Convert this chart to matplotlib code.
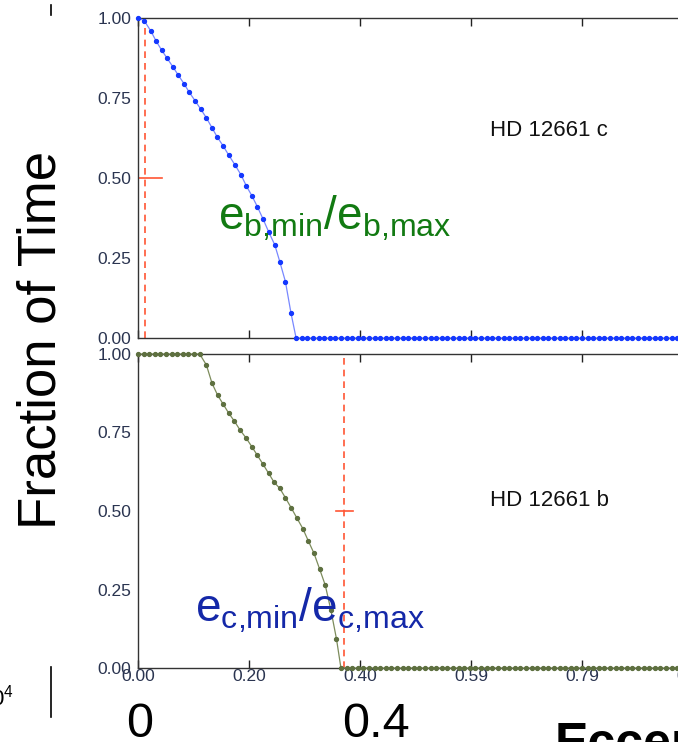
import matplotlib
matplotlib.use("Agg")
import matplotlib.pyplot as plt

plt.rcParams['font.family'] = ['Liberation Sans', 'DejaVu Sans']

# HD 12661 c panel: fraction of time vs eccentricity
top_e = [0.000, 0.011, 0.023, 0.032, 0.042, 0.052, 0.062, 0.072, 0.082, 0.091,
         0.102, 0.112, 0.122, 0.132, 0.141, 0.152, 0.162, 0.173, 0.184, 0.193,
         0.203, 0.213, 0.223, 0.233, 0.244, 0.253, 0.263, 0.273, 0.282,
         0.292, 0.302, 0.312, 0.322, 0.332, 0.342, 0.352, 0.362, 0.372, 0.382,
         0.392, 0.402, 0.412, 0.422, 0.432, 0.442, 0.452, 0.462, 0.472, 0.482,
         0.492, 0.502, 0.512, 0.522, 0.532, 0.542, 0.552, 0.562, 0.572, 0.582,
         0.592, 0.602, 0.612, 0.622, 0.632, 0.642, 0.652, 0.662, 0.672, 0.682,
         0.692, 0.702, 0.712, 0.722, 0.732, 0.742, 0.752, 0.762, 0.772, 0.782,
         0.792, 0.802, 0.812, 0.822, 0.832, 0.842, 0.852, 0.862, 0.872, 0.882,
         0.892, 0.902, 0.912, 0.922, 0.932, 0.942, 0.952, 0.962, 0.972, 0.982]
top_f = [1.000, 0.992, 0.959, 0.929, 0.900, 0.874, 0.848, 0.821, 0.795, 0.769,
         0.741, 0.715, 0.688, 0.657, 0.629, 0.600, 0.571, 0.541, 0.509, 0.476,
         0.445, 0.410, 0.372, 0.332, 0.291, 0.238, 0.176, 0.077, 0.000,
         0, 0, 0, 0, 0, 0, 0, 0, 0, 0,
         0, 0, 0, 0, 0, 0, 0, 0, 0, 0,
         0, 0, 0, 0, 0, 0, 0, 0, 0, 0,
         0, 0, 0, 0, 0, 0, 0, 0, 0, 0,
         0, 0, 0, 0, 0, 0, 0, 0, 0, 0,
         0, 0, 0, 0, 0, 0, 0, 0, 0, 0,
         0, 0, 0, 0, 0, 0, 0, 0, 0, 0]

# HD 12661 b panel
bot_e = [0.000, 0.010, 0.020, 0.030, 0.040, 0.050, 0.060, 0.070, 0.080, 0.090,
         0.100, 0.110, 0.122, 0.132, 0.142, 0.152, 0.162, 0.172, 0.182, 0.193,
         0.203, 0.213, 0.223, 0.233, 0.243, 0.253, 0.263, 0.273, 0.283, 0.294,
         0.304, 0.314, 0.324, 0.334, 0.344, 0.354, 0.362,
         0.372, 0.382, 0.392, 0.402, 0.412, 0.422, 0.432, 0.442, 0.452, 0.462,
         0.472, 0.482, 0.492, 0.502, 0.512, 0.522, 0.532, 0.542, 0.552, 0.562,
         0.572, 0.582, 0.592, 0.602, 0.612, 0.622, 0.632, 0.642, 0.652, 0.662,
         0.672, 0.682, 0.692, 0.702, 0.712, 0.722, 0.732, 0.742, 0.752, 0.762,
         0.772, 0.782, 0.792, 0.802, 0.812, 0.822, 0.832, 0.842, 0.852, 0.862,
         0.872, 0.882, 0.892, 0.902, 0.912, 0.922, 0.932, 0.942, 0.952, 0.962,
         0.972, 0.982]
bot_f = [1.000, 1.000, 1.000, 1.000, 1.000, 1.000, 1.000, 1.000, 1.000, 1.000,
         1.000, 1.000, 0.965, 0.907, 0.869, 0.840, 0.811, 0.786, 0.758, 0.732,
         0.705, 0.677, 0.649, 0.620, 0.591, 0.572, 0.542, 0.511, 0.479, 0.444,
         0.404, 0.365, 0.315, 0.264, 0.185, 0.093, 0.000,
         0, 0, 0, 0, 0, 0, 0, 0, 0, 0,
         0, 0, 0, 0, 0, 0, 0, 0, 0, 0,
         0, 0, 0, 0, 0, 0, 0, 0, 0, 0,
         0, 0, 0, 0, 0, 0, 0, 0, 0, 0,
         0, 0, 0, 0, 0, 0, 0, 0, 0, 0,
         0, 0, 0, 0, 0, 0, 0, 0, 0, 0,
         0, 0]

# red dashed marker: eccentricity value and half width of the cap
top_red_e, top_red_cap = 0.012, 0.030
bot_red_e, bot_red_cap = 0.368, 0.015

xticks = [0.0, 0.198, 0.396, 0.594, 0.792, 0.990]
xticklabels = ['0.00', '0.20', '0.40', '0.59', '0.79', '0.99']
yticks = [0.0, 0.25, 0.5, 0.75, 1.0]
yticklabels = ['0.00', '0.25', '0.50', '0.75', '1.00']

W, H = 678, 742
fig = plt.figure(figsize=(W / 100, H / 100), dpi=100)

def px_axes(left, top, right, bottom):
    return fig.add_axes([left / W, 1 - bottom / H, (right - left) / W, (bottom - top) / H])

ax1 = px_axes(138, 18, 693, 338)
ax2 = px_axes(138, 354, 693, 668)

label_col = '#2a3450'
red = '#ff5533'

panels = [
    (ax1, top_e, top_f, '#7888ff', '#1438ff', top_red_e, top_red_cap, 'HD 12661 c', 0.647, False),
    (ax2, bot_e, bot_f, '#7d8c5c', '#5e7040', bot_red_e, bot_red_cap, 'HD 12661 b', 0.532, True),
]

for ax, e, f, lc, mc, re_, cap, name, name_y, show_x in panels:
    ax.plot(e, f, '-', color=lc, lw=0.9, marker='o', ms=2.8,
            mfc=mc, mec=mc, clip_on=False, zorder=3)
    ax.axvline(re_, color=red, lw=1.2, ls=(0, (4, 3)), zorder=2)
    ax.plot([re_ - cap, re_ + cap], [0.5, 0.5], color=red, lw=1.2, zorder=2)
    ax.set_xlim(0, 0.99)
    ax.set_ylim(0, 1)
    ax.set_xticks(xticks)
    ax.set_yticks(yticks)
    ax.set_yticklabels(yticklabels)
    if show_x:
        ax.set_xticklabels(xticklabels)
    else:
        ax.set_xticklabels([])
    ax.tick_params(axis='x', direction='in', length=6, width=1, top=True,
                   colors='#222222', labelcolor=label_col, labelsize=12.5, pad=1)
    ax.tick_params(axis='y', length=0, labelcolor=label_col, labelsize=12.5, pad=5)
    for s in ax.spines.values():
        s.set_color('#333333')
        s.set_linewidth(1.0)
    ax.text(0.634, name_y, name, transform=ax.transAxes, fontsize=16, color='#111111',
            ha='left', va='center')

fig.text(218 / W, 1 - 218 / H, r'$\mathregular{e_{b{,}min}/e_{b{,}max}}$',
         color='#127a12', fontsize=33, ha='left', va='center')
fig.text(195 / W, 1 - 610 / H, r'$\mathregular{e_{c{,}min}/e_{c{,}max}}$',
         color='#1428a8', fontsize=33, ha='left', va='center')

fig.text(42 / W, 1 - 340 / H, 'Fraction of Time', rotation=90, fontsize=38,
         ha='center', va='center', color='black')
fig.text(140 / W, 1 - 737 / H, '0', fontsize=35, ha='center', va='baseline')
fig.text(376 / W, 1 - 737 / H, '0.4', fontsize=35, ha='center', va='baseline')
fig.text(555 / W, 1 - 722 / H, 'Eccentricity', fontsize=36, fontweight='bold',
         ha='left', va='top')
fig.text(14 / W, 1 - 698 / H, r'$\mathregular{10^4}$', fontsize=16, ha='right', va='center')
fig.add_artist(plt.Line2D([51 / W, 51 / W], [1 - 667 / H, 1 - 717 / H], color='black', lw=1.2))
fig.add_artist(plt.Line2D([51 / W, 51 / W], [1 - 5 / H, 1 - 15 / H], color='black', lw=1.2))

fig.savefig('out.png', dpi=100)
